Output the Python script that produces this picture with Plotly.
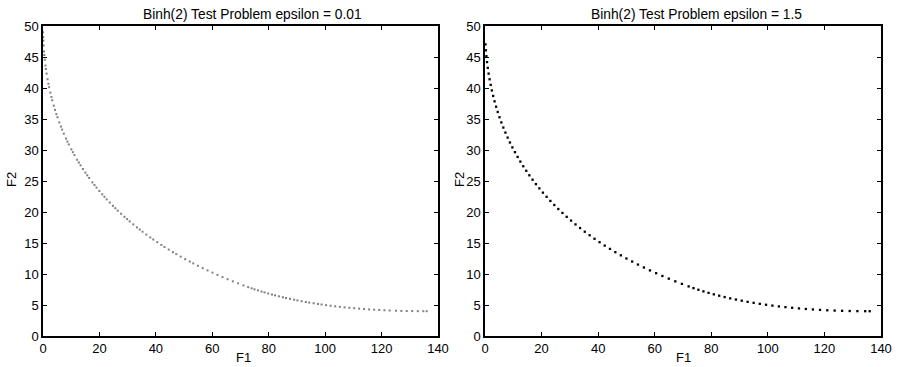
import plotly.graph_objects as go

# Left panel: epsilon = 0.01 (F1, F2)
left_f1 = [0.02, 0.06, 0.12, 0.20, 0.35, 0.46, 0.63, 0.87, 1.04, 1.28, 1.62, 1.92, 2.16, 2.60, 2.98,
           3.28, 3.81, 4.26, 4.74, 5.12, 5.78, 6.34, 6.77, 7.37, 8.16, 8.65, 9.16, 10.04, 10.58, 11.14,
           12.10, 12.70, 13.31, 14.15, 15.02, 15.68, 16.36, 17.52, 18.24, 18.97, 19.97, 21.00, 21.78,
           22.58, 23.67, 24.78, 25.63, 26.50, 27.68, 28.88, 29.80, 30.73, 32.00, 33.29, 34.28, 35.28,
           36.64, 38.02, 39.07, 40.50, 41.95, 43.06, 44.56, 46.08, 47.24, 48.81, 50.40, 52.02, 53.25,
           54.92, 56.60, 58.32, 60.06, 61.83, 63.62, 65.44, 67.28, 69.15, 71.04,
           72.72, 73.95, 74.94, 76.20, 77.47, 78.51, 79.82, 81.16, 82.24, 83.61, 85.00, 86.13, 87.55,
           89.00, 90.17, 91.65, 93.15, 94.37, 95.91, 97.47, 98.73, 100.32, 101.93, 103.57, 105.22,
           106.90, 108.59, 110.30, 112.04, 113.79, 115.57, 117.36, 119.17, 121.01, 122.86, 125.11,
           127.01, 128.93, 130.87, 132.83, 134.80, 136.00]
left_f2 = [49.01, 48.22, 47.63, 46.85, 45.89, 45.32, 44.56, 43.62, 43.06, 42.32, 41.41, 40.68, 40.14,
           39.25, 38.54, 38.02, 37.15, 36.47, 35.79, 35.28, 34.45, 33.78, 33.29, 32.64, 31.84, 31.36,
           30.89, 30.11, 29.65, 29.18, 28.43, 27.98, 27.53, 26.94, 26.35, 25.92, 25.49, 24.78, 24.36,
           23.94, 23.39, 22.85, 22.45, 22.04, 21.52, 21.00, 20.61, 20.22, 19.72, 19.22, 18.85, 18.48,
           18.00, 17.52, 17.17, 16.82, 16.36, 15.90, 15.57, 15.13, 14.69, 14.36, 13.94, 13.52, 13.21,
           12.80, 12.40, 12.01, 11.71, 11.33, 10.95, 10.58, 10.22, 9.86, 9.50, 9.16, 8.82, 8.49, 8.16,
           7.88, 7.69, 7.53, 7.35, 7.17, 7.03, 6.86, 6.69, 6.56, 6.40, 6.25, 6.13, 5.99, 5.85, 5.74,
           5.61, 5.49, 5.39, 5.28, 5.17, 5.08, 4.98, 4.88, 4.79, 4.71, 4.62, 4.55, 4.48, 4.41, 4.35,
           4.29, 4.24, 4.19, 4.15, 4.12, 4.08, 4.05, 4.03, 4.02, 4.01, 4.00, 4.00]

# Right panel: epsilon = 1.5 (F1, F2)
right_f1 = [0.18, 0.32, 0.50, 0.72, 0.98, 1.28, 1.62, 2.00, 2.42, 2.88, 3.38, 3.92, 4.50, 5.12, 5.78,
            6.48, 7.22, 8.00, 8.82, 9.68, 10.58, 11.52, 12.50, 13.52, 14.58, 15.68, 16.82, 18.00,
            19.22, 20.48, 21.78, 23.12, 24.50, 25.92, 27.38, 28.88, 30.42, 32.00, 33.62, 35.28, 36.98,
            38.72, 40.50, 42.32, 44.18, 46.08, 48.02, 50.00, 52.02, 54.08, 56.18, 58.32, 60.50, 62.72,
            64.98, 67.28, 69.62, 72.00,
            73.70, 75.44, 77.22, 79.03, 80.89, 82.79, 84.72, 86.69, 88.71, 90.76, 92.85, 94.98, 97.15,
            99.36, 101.61, 103.90, 106.22, 108.59, 111.00, 113.44, 115.92, 118.45, 121.01, 123.61,
            126.25, 128.93, 131.65, 134.41, 136.00]
right_f2 = [47.05, 46.08, 45.13, 44.18, 43.25, 42.32, 41.41, 40.50, 39.61, 38.72, 37.85, 36.98, 36.13,
            35.28, 34.45, 33.62, 32.81, 32.00, 31.21, 30.42, 29.65, 28.88, 28.13, 27.38, 26.65, 25.92,
            25.21, 24.50, 23.81, 23.12, 22.45, 21.78, 21.13, 20.48, 19.85, 19.22, 18.61, 18.00, 17.41,
            16.82, 16.25, 15.68, 15.13, 14.58, 14.05, 13.52, 13.01, 12.50, 12.01, 11.52, 11.05, 10.58,
            10.13, 9.68, 9.25, 8.82, 8.41, 8.00,
            7.72, 7.46, 7.20, 6.96, 6.72, 6.50, 6.28, 6.07, 5.88, 5.69, 5.51, 5.35, 5.19, 5.04, 4.90,
            4.77, 4.66, 4.55, 4.45, 4.36, 4.28, 4.21, 4.15, 4.10, 4.06, 4.03, 4.01, 4.00, 4.00]

titles = ["Binh(2) Test Problem epsilon = 0.01", "Binh(2) Test Problem epsilon = 1.5"]
x_ticks = [0, 20, 40, 60, 80, 100, 120, 140]
y_ticks = [0, 5, 10, 15, 20, 25, 30, 35, 40, 45, 50]

W, H = 898, 367
FONT = "Liberation Sans, Arial, Helvetica, sans-serif"

fig = go.Figure()
fig.add_trace(go.Scatter(x=left_f1, y=left_f2, mode="markers", xaxis="x", yaxis="y",
                         marker=dict(symbol="square", size=2, color="#808080", line=dict(width=0)),
                         showlegend=False))
fig.add_trace(go.Scatter(x=right_f1, y=right_f2, mode="markers", xaxis="x2", yaxis="y2",
                         marker=dict(symbol="square", size=2.3, color="#000000", line=dict(width=0)),
                         showlegend=False))

ydom = [1 - 336 / H, 1 - 26 / H]
xdom1 = [43 / W, 438 / W]
xdom2 = [485 / W, 881 / W]

axis_common = dict(showgrid=False, zeroline=False, showline=True, linecolor="black", linewidth=1.5,
                   mirror="ticks", ticks="inside", ticklen=4, tickwidth=1, tickcolor="black",
                   automargin=False,
                   tickfont=dict(family=FONT, size=13, color="black"))

fig.update_layout(
    template="none",
    width=W, height=H, margin=dict(l=0, r=0, t=0, b=0, pad=0), autosize=False,
    paper_bgcolor="white", plot_bgcolor="white",
    xaxis=dict(domain=xdom1, range=[0, 140], tickvals=x_ticks, anchor="y", **axis_common),
    yaxis=dict(domain=ydom, range=[0, 50], tickvals=y_ticks, anchor="x", **axis_common),
    xaxis2=dict(domain=xdom2, range=[0, 140], tickvals=x_ticks, anchor="y2", **axis_common),
    yaxis2=dict(domain=ydom, range=[0, 50], tickvals=y_ticks, anchor="x2", **axis_common),
)

title_font = dict(family=FONT, size=13.8, color="black")
label_font = dict(family=FONT, size=13, color="black")
anns = []
for title, cx in zip(titles, [252 / W, 696 / W]):
    anns.append(dict(text=title, x=cx, y=1 - 14 / H, xref="paper", yref="paper",
                     xanchor="center", yanchor="middle", showarrow=False, font=title_font))
for cx in [243 / W, 683 / W]:
    anns.append(dict(text="F1", x=cx, y=1 - 357 / H, xref="paper", yref="paper",
                     xanchor="center", yanchor="middle", showarrow=False, font=label_font))
for cx in [11 / W, 459 / W]:
    anns.append(dict(text="F2", x=cx, y=1 - 180 / H, xref="paper", yref="paper", textangle=-90,
                     xanchor="center", yanchor="middle", showarrow=False, font=label_font))
fig.update_layout(annotations=anns)

fig.write_html("out.html")
